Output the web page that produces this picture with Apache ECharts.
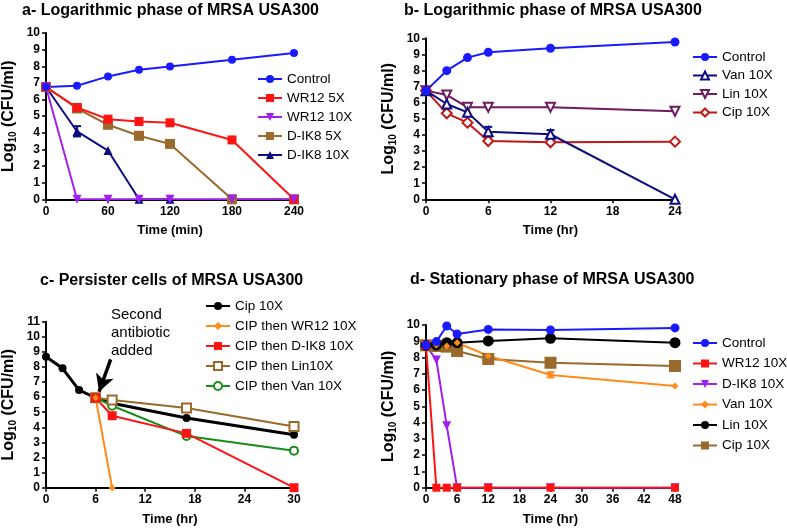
<!DOCTYPE html>
<html><head><meta charset="utf-8">
<script src="https://cdn.jsdelivr.net/npm/echarts@6/dist/echarts.min.js"></script>
<style>html,body{margin:0;padding:0;background:#fff}#c{width:787px;height:528px}</style>
</head><body><div id="c"></div>
<script>
// ---- Panel a: Logarithmic phase (min) ----
const aTime = [0, 30, 60, 90, 120, 180, 240];
const aControl = [6.75, 6.83, 7.39, 7.79, 7.99, 8.39, 8.8];
const aWR12_5X = [6.75, 5.52, 4.82, 4.68, 4.6, 3.57, 0];
const aWR12_10X = [6.75, 0, 0, 0, 0, 0, 0];
const aDIK8_5X = [6.75, 5.46, 4.48, 3.82, 3.33, 0, 0];
const aDIK8_10X = [6.75, 4.08, 2.93, 0, 0, null, null];
const aErr = [[30, 3.78, 4.4]];
// ---- Panel b: Logarithmic phase (hr) ----
const bTime = [0, 2, 4, 6, 12, 24];
const bControl = [6.75, 7.99, 8.8, 9.13, 9.38, 9.77];
const bVan = [6.75, 5.92, 5.4, 4.2, 4.04, 0];
const bLin = [6.75, 6.48, 5.71, 5.71, 5.71, 5.47];
const bCip = [6.75, 5.34, 4.76, 3.62, 3.54, 3.58];
const bErr = [[6, 3.9, 4.5], [12, 3.8, 4.3]];
// ---- Panel c: Persister cells ----
const cTimeCip = [0, 2, 4, 6, 8, 17, 30];
const cCip = [8.68, 7.91, 6.47, 5.96, 5.59, 4.62, 3.51];
const cTimeWR = [6, 8];
const cWR12 = [5.96, 0];
const cTimeAdd = [6, 8, 17, 30];
const cDIK8 = [5.96, 4.77, 3.6, 0];
const cLin = [5.96, 5.81, 5.28, 4.06];
const cVan = [5.96, 5.43, 3.42, 2.45];
const cErr = [[30, 2.28, 2.62]];
const cArrow = [[7.82, 8.5], [6.42, 6.36]];
// ---- Panel d: Stationary phase ----
const dTime = [0, 2, 4, 6, 12, 24, 48];
const dControl = [8.75, 8.98, 9.94, 9.45, 9.73, 9.69, 9.82];
const dWR12 = [8.75, 0, 0, 0, 0, 0, 0];
const dDIK8 = [8.75, 7.85, 3.81, 0, 0, 0, 0];
const dVan = [8.75, 8.77, 8.71, 8.91, 8.11, 6.93, 6.25];
const dLin = [8.75, 8.77, 8.91, 8.91, 9.02, 9.18, 8.91];
const dCip = [8.75, 8.71, 8.67, 8.4, 7.91, 7.68, 7.48];
const dErr = [[24, 6.78, 7.1]];

const FONT = 'Arial, "Liberation Sans", sans-serif';
const pair = (xs, ys) => xs.map((x, i) => [x, ys[i]]);

const BLUE = '#1a1aff', RED = '#ff1414', VIOLET = '#a020f0', BROWN = '#9a6a2c', NAVY = '#0c0c80',
      PLUM = '#6e1a5e', DRED = '#c01818', GREEN = '#1a8c1a', ORANGE = '#ff8c1a', BLACK = '#000';
const INV_TRI = 'path://M0,0 L10,0 L5,9 Z';

const grids = [
  {left: 45, top: 33, width: 249, height: 166.3},
  {left: 426, top: 38.3, width: 249, height: 161},
  {left: 45, top: 321.7, width: 249, height: 166},
  {left: 426, top: 325, width: 249, height: 162.7}
];
const xCfg = [[0, 240, 60, 'Time (min)'], [0, 24, 6, 'Time (hr)'], [0, 30, 6, 'Time (hr)'], [0, 48, 6, 'Time (hr)']];
const yCfg = [[0, 10], [0, 10], [0, 11], [0, 10]];

function line(gi, name, xs, ys, color, symbol, size, open, extra) {
  return Object.assign({
    type: 'line', name: name, xAxisIndex: gi, yAxisIndex: gi,
    data: pair(xs, ys), symbol: symbol, symbolSize: size, showSymbol: true,
    lineStyle: {color: color, width: 2}, connectNulls: false,
    itemStyle: open ? {color: '#fff', borderColor: color, borderWidth: 2} : {color: color, borderColor: color, borderWidth: 0},
    emphasis: {disabled: true}, animation: false, z: 2
  }, extra || {});
}
function errSeries(gi, data, color) {
  return {
    type: 'custom', xAxisIndex: gi, yAxisIndex: gi, data: data, animation: false, z: 1, silent: true,
    renderItem: function (params, api) {
      const lo = api.coord([api.value(0), api.value(1)]);
      const hi = api.coord([api.value(0), api.value(2)]);
      const st = {stroke: color, lineWidth: 2};
      return {type: 'group', children: [
        {type: 'line', shape: {x1: lo[0], y1: lo[1], x2: hi[0], y2: hi[1]}, style: st},
        {type: 'line', shape: {x1: lo[0] - 4, y1: lo[1], x2: lo[0] + 4, y2: lo[1]}, style: st},
        {type: 'line', shape: {x1: hi[0] - 4, y1: hi[1], x2: hi[0] + 4, y2: hi[1]}, style: st}
      ]};
    }
  };
}

const yName = {
  name: '{b|Log}{s|10}{b| (CFU/ml)}',
  nameTextStyle: {rich: {
    b: {fontFamily: FONT, fontWeight: 'bold', fontSize: 16, color: '#000'},
    s: {fontFamily: FONT, fontWeight: 'bold', fontSize: 10, color: '#000', padding: [8, 0, 0, 0]}
  }}
};

const option = {
  animation: false,
  title: [
    {text: 'a- Logarithmic phase of MRSA USA300', left: 22, top: 3},
    {text: 'b- Logarithmic phase of MRSA USA300', left: 404, top: 3},
    {text: 'c- Persister cells of MRSA USA300', left: 40, top: 273},
    {text: 'd- Stationary phase of MRSA USA300', left: 410, top: 272}
  ].map(t => Object.assign(t, {padding: 0, textStyle: {fontFamily: FONT, fontWeight: 'bold', fontSize: 16, color: '#000'}})),
  grid: grids,
  xAxis: xCfg.map((c, i) => ({
    type: 'value', gridIndex: i, min: c[0], max: c[1], interval: c[2],
    name: c[3], nameLocation: 'middle', nameGap: 25,
    nameTextStyle: {fontFamily: FONT, fontWeight: 'bold', fontSize: 13, color: '#000'},
    axisLine: {show: true, onZero: false, lineStyle: {color: '#000', width: 2}},
    axisTick: {show: true, inside: false, length: 4, lineStyle: {color: '#000', width: 1.5}},
    axisLabel: {fontFamily: FONT, fontWeight: 'bold', fontSize: 12, color: '#000', margin: 6},
    splitLine: {show: false}
  })),
  yAxis: yCfg.map((c, i) => Object.assign({
    type: 'value', gridIndex: i, min: c[0], max: c[1], interval: 1,
    nameLocation: 'middle', nameGap: 28, nameRotate: 90,
    axisLine: {show: true, lineStyle: {color: '#000', width: 2}},
    axisTick: {show: true, inside: false, length: 4, lineStyle: {color: '#000', width: 1.5}},
    axisLabel: {fontFamily: FONT, fontWeight: 'bold', fontSize: 12, color: '#000', margin: 6},
    splitLine: {show: false}
  }, JSON.parse(JSON.stringify(yName)))),
  legend: [
    {left: 257, top: 72, itemGap: 5, data: ['a|Control', 'a|WR12 5X', 'a|WR12 10X', 'a|D-IK8 5X', 'a|D-IK8 10X']},
    {left: 692, top: 50, itemGap: 4.5, data: ['b|Control', 'b|Van 10X', 'b|Lin 10X', 'b|Cip 10X']},
    {left: 205, top: 299, itemGap: 6, data: ['c|Cip 10X', 'c|CIP then WR12 10X', 'c|CIP then D-IK8 10X', 'c|CIP then Lin10X', 'c|CIP then Van 10X']},
    {left: 692, top: 336, itemGap: 6.5, data: ['d|Control', 'd|WR12 10X', 'd|D-IK8 10X', 'd|Van 10X', 'd|Lin 10X', 'd|Cip 10X']}
  ].map(l => Object.assign(l, {
    orient: 'vertical', padding: 0, itemWidth: 24, itemHeight: 10, selectedMode: false,
    formatter: n => n.split('|')[1],
    textStyle: {fontFamily: FONT, fontSize: 13.5, color: '#000', lineHeight: 14}
  })),
  graphic: [{
    type: 'text', left: 111, top: 306,
    style: {text: 'Second\nantibiotic\nadded', font: '15px ' + FONT, fill: '#000', lineHeight: 18}
  }],
  series: [
    errSeries(0, aErr, NAVY),
    line(0, 'a|D-IK8 10X', aTime, aDIK8_10X, NAVY, 'triangle', 9, false),
    line(0, 'a|D-IK8 5X', aTime, aDIK8_5X, BROWN, 'rect', 10, false),
    line(0, 'a|WR12 5X', aTime, aWR12_5X, RED, 'rect', 9, false),
    line(0, 'a|WR12 10X', aTime, aWR12_10X, VIOLET, INV_TRI, 9, false),
    line(0, 'a|Control', aTime, aControl, BLUE, 'circle', 8, false),

    errSeries(1, bErr, NAVY),
    line(1, 'b|Cip 10X', bTime, bCip, DRED, 'diamond', 10, true),
    line(1, 'b|Lin 10X', bTime, bLin, PLUM, INV_TRI, 9, true),
    line(1, 'b|Van 10X', bTime, bVan, NAVY, 'triangle', 9, true),
    line(1, 'b|Control', bTime, bControl, BLUE, 'circle', 9, false),

    errSeries(2, cErr, GREEN),
    line(2, 'c|Cip 10X', cTimeCip, cCip, BLACK, 'circle', 8, false, {
      lineStyle: {color: BLACK, width: 3},
      markLine: {silent: true, symbol: ['none', 'arrow'], symbolSize: [14, 17], label: {show: false},
        lineStyle: {color: '#000', width: 3.5, type: 'solid'},
        data: [[{coord: cArrow[0]}, {coord: cArrow[1]}]]}
    }),
    line(2, 'c|CIP then Van 10X', cTimeAdd, cVan, GREEN, 'circle', 8, true),
    line(2, 'c|CIP then Lin10X', cTimeAdd, cLin, BROWN, 'rect', 9, true),
    line(2, 'c|CIP then D-IK8 10X', cTimeAdd, cDIK8, RED, 'rect', 9, false),
    line(2, 'c|CIP then WR12 10X', cTimeWR, cWR12, ORANGE, 'diamond', 7, false),

    errSeries(3, dErr, ORANGE),
    line(3, 'd|Cip 10X', dTime, dCip, BROWN, 'rect', 12, false),
    line(3, 'd|Lin 10X', dTime, dLin, BLACK, 'circle', 11, false),
    line(3, 'd|Van 10X', dTime, dVan, ORANGE, 'diamond', 7, false),
    line(3, 'd|D-IK8 10X', dTime, dDIK8, VIOLET, INV_TRI, 9, false),
    line(3, 'd|WR12 10X', dTime, dWR12, RED, 'rect', 8, false),
    line(3, 'd|Control', dTime, dControl, BLUE, 'circle', 9, false)
  ]
};
const chart = echarts.init(document.getElementById('c'), null, {renderer: 'canvas'});
chart.setOption(option);
</script></body></html>
